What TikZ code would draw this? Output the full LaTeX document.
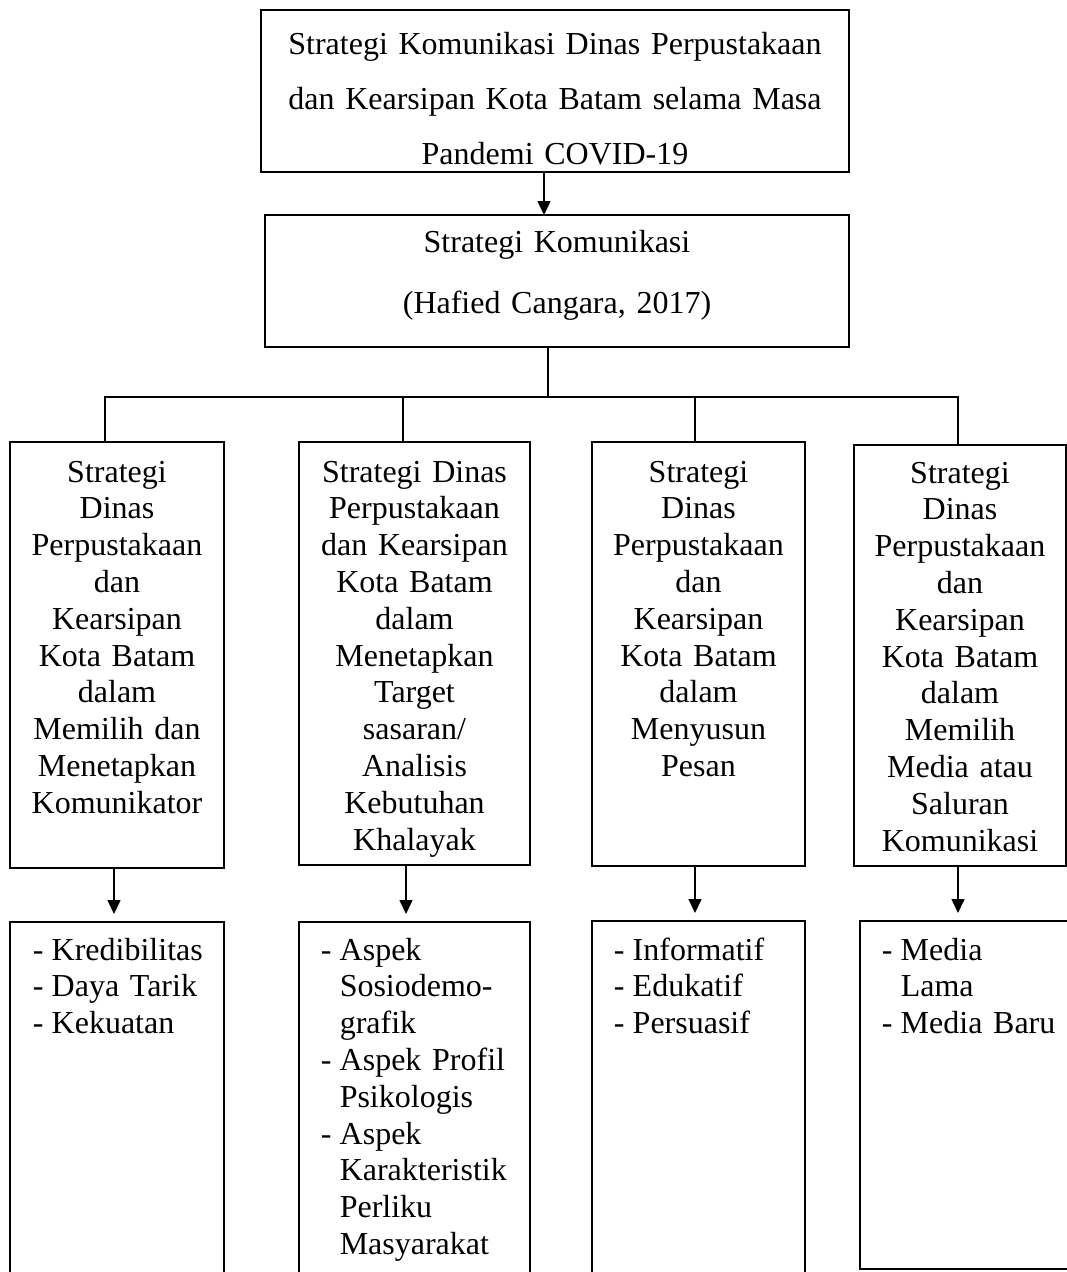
\documentclass[tikz,border=0pt]{standalone}
\usepackage{fontspec}
\setmainfont{Liberation Serif}
\usetikzlibrary{arrows.meta}
\newcommand\dl{\makebox[19pt][l]{-}}
\newcommand\ind{\hspace*{19pt}}
\begin{document}
\begin{tikzpicture}[x=1pt,y=-1pt, line width=1.5pt,
  box/.style={draw, rectangle, inner sep=0pt, outer sep=0pt},
  txt/.style={inner sep=0pt, anchor=base, align=center, font=\fontsize{32}{36.8}\selectfont},
  lst/.style={inner sep=0pt, anchor=base west, align=left, text width=215pt, font=\fontsize{32}{36.8}\selectfont},
  arr/.style={-{Triangle[width=13pt,length=14pt]}}]
\useasboundingbox (0,0) rectangle (1067,1272);
\clip (0,0) rectangle (1067,1272);

% boxes
\node[box, minimum width=588pt, minimum height=162pt] (top) at (555,91) {};
\node[box, minimum width=584pt, minimum height=132pt] (sk) at (557,281) {};
\node[box, minimum width=214pt, minimum height=426pt] (b1) at (117,655) {};
\node[box, minimum width=231pt, minimum height=423pt] (b2) at (414.5,653.5) {};
\node[box, minimum width=213pt, minimum height=424pt] (b3) at (698.5,654) {};
\node[box, minimum width=212pt, minimum height=421pt] (b4) at (960,655.5) {};
\node[box, minimum width=214pt, minimum height=378pt] (l1) at (117,1111) {};
\node[box, minimum width=231pt, minimum height=378pt] (l2) at (414.5,1111) {};
\node[box, minimum width=213pt, minimum height=379pt] (l3) at (698.5,1110.5) {};
\node[box, minimum width=230pt, minimum height=348pt] (l4) at (975,1095) {};

% texts
\node[txt, text width=585pt, font=\fontsize{32}{55}\selectfont] (tt) at (555,54)
  {Strategi Komunikasi Dinas Perpustakaan\\dan Kearsipan Kota Batam selama Masa\\Pandemi COVID-19};
\node[txt, text width=580pt, font=\fontsize{32}{61}\selectfont] (skt) at (557,252)
  {Strategi Komunikasi\\(Hafied Cangara, 2017)};
\node[txt, text width=210pt] (t1) at (117,482)
  {Strategi\\Dinas\\Perpustakaan\\dan\\Kearsipan\\Kota Batam\\dalam\\Memilih dan\\Menetapkan\\Komunikator};
\node[txt, text width=228pt] (t2) at (414.5,482)
  {Strategi Dinas\\Perpustakaan\\dan Kearsipan\\Kota Batam\\dalam\\Menetapkan\\Target\\sasaran/\\Analisis\\Kebutuhan\\Khalayak};
\node[txt, text width=210pt] (t3) at (698.5,482)
  {Strategi\\Dinas\\Perpustakaan\\dan\\Kearsipan\\Kota Batam\\dalam\\Menyusun\\Pesan};
\node[txt, text width=210pt] (t4) at (960,483)
  {Strategi\\Dinas\\Perpustakaan\\dan\\Kearsipan\\Kota Batam\\dalam\\Memilih\\Media atau\\Saluran\\Komunikasi};

\node[lst] (lt1) at (32,960) {\dl Kredibilitas\\\dl Daya Tarik\\\dl Kekuatan};
\node[lst] (lt2) at (320,960) {\dl Aspek\\\ind Sosiodemo-\\\ind grafik\\\dl \makebox[169pt][s]{Aspek Profil}\\\ind Psikologis\\\dl Aspek\\\ind Karakteristik\\\ind Perliku\\\ind Masyarakat};
\node[lst] (lt3) at (613,960) {\dl Informatif\\\dl Edukatif\\\dl Persuasif};
\node[lst] (lt4) at (881,960) {\dl Media\\\ind Lama\\\dl Media Baru};

% connectors
\coordinate (ax) at (544,0);
\draw[arr] (ax |- top.south) -- (ax |- sk.north);
\coordinate (hub) at (548,397);
\draw (hub |- sk.south) -- (hub);
\coordinate (d1) at (105,397);
\coordinate (d2) at (403,397);
\coordinate (d3) at (695,397);
\coordinate (d4) at (958,397);
\draw (d1 |- b1.north) -- (d1) -- (d4) -- (d4 |- b4.north);
\draw (d2) -- (d2 |- b2.north);
\draw (d3) -- (d3 |- b3.north);
\coordinate (a1) at (114,0);
\coordinate (a2) at (406,0);
\coordinate (a3) at (695,0);
\coordinate (a4) at (958,0);
\draw[arr, shorten >=8pt] (a1 |- b1.south) -- (a1 |- l1.north);
\draw[arr, shorten >=8pt] (a2 |- b2.south) -- (a2 |- l2.north);
\draw[arr, shorten >=8pt] (a3 |- b3.south) -- (a3 |- l3.north);
\draw[arr, shorten >=8pt] (a4 |- b4.south) -- (a4 |- l4.north);
\end{tikzpicture}
\end{document}
